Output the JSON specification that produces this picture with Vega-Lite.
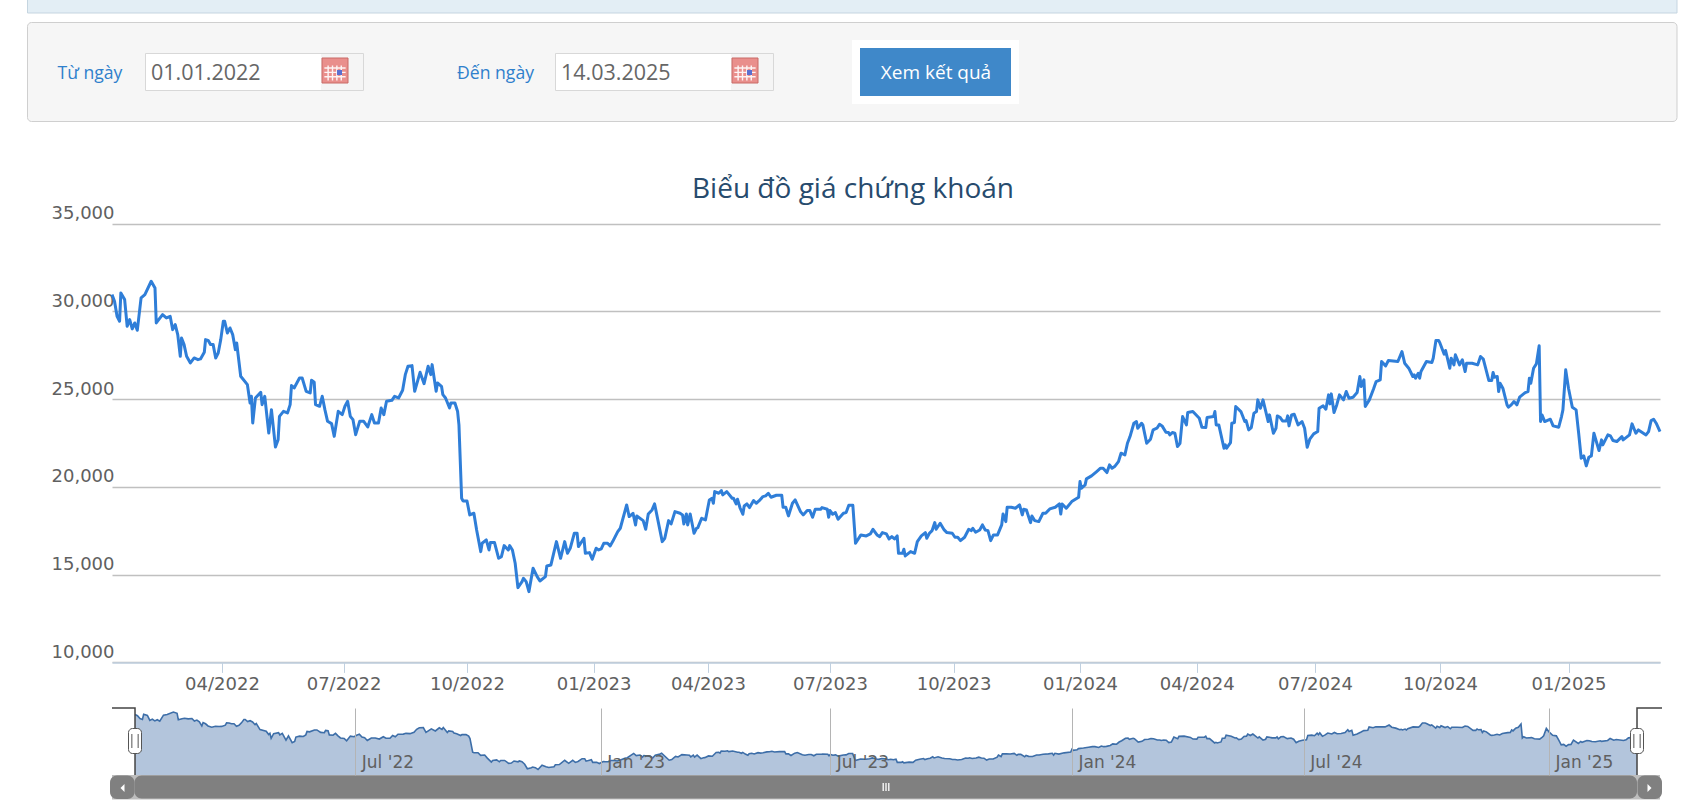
{"$schema":"https://vega.github.io/schema/vega-lite/v6.json","width":1694,"height":812,"padding":0,"autosize":{"type":"none"},"background":"#ffffff","title":{"text":"Biểu đồ giá chứng khoán","anchor":"middle","orient":"top","offset":-235,"dx":6,"baseline":"bottom","font":"Open Sans","fontSize":28,"fontWeight":"normal","color":"#274b6d"},"config":{"view":{"stroke":null},"text":{"font":"Open Sans"}},"datasets":{"price":[{"d":"2022-01-04","p":30955},{"d":"2022-01-06","p":30575},{"d":"2022-01-08","p":29720},{"d":"2022-01-10","p":29435},{"d":"2022-01-11","p":31050},{"d":"2022-01-14","p":30670},{"d":"2022-01-16","p":29150},{"d":"2022-01-18","p":29530},{"d":"2022-01-20","p":29000},{"d":"2022-01-22","p":29340},{"d":"2022-01-24","p":28920},{"d":"2022-01-27","p":30765},{"d":"2022-01-30","p":30955},{"d":"2022-02-04","p":31715},{"d":"2022-02-07","p":31335},{"d":"2022-02-08","p":29340},{"d":"2022-02-11","p":29625},{"d":"2022-02-13","p":29815},{"d":"2022-02-16","p":29625},{"d":"2022-02-19","p":29720},{"d":"2022-02-21","p":28960},{"d":"2022-02-23","p":29245},{"d":"2022-02-25","p":28675},{"d":"2022-02-27","p":27440},{"d":"2022-02-28","p":28485},{"d":"2022-03-02","p":28105},{"d":"2022-03-04","p":27440},{"d":"2022-03-07","p":27060},{"d":"2022-03-10","p":27345},{"d":"2022-03-13","p":27250},{"d":"2022-03-15","p":27290},{"d":"2022-03-18","p":27670},{"d":"2022-03-19","p":28390},{"d":"2022-03-21","p":28350},{"d":"2022-03-23","p":28105},{"d":"2022-03-25","p":28105},{"d":"2022-03-27","p":27345},{"d":"2022-03-29","p":27630},{"d":"2022-03-31","p":28390},{"d":"2022-04-02","p":29435},{"d":"2022-04-03","p":29435},{"d":"2022-04-05","p":28770},{"d":"2022-04-07","p":29055},{"d":"2022-04-09","p":28675},{"d":"2022-04-11","p":27820},{"d":"2022-04-12","p":28200},{"d":"2022-04-15","p":26300},{"d":"2022-04-20","p":25825},{"d":"2022-04-22","p":24780},{"d":"2022-04-23","p":25160},{"d":"2022-04-24","p":23640},{"d":"2022-04-26","p":25065},{"d":"2022-04-30","p":25390},{"d":"2022-05-01","p":24685},{"d":"2022-05-03","p":25160},{"d":"2022-05-06","p":23070},{"d":"2022-05-08","p":24400},{"d":"2022-05-11","p":22270},{"d":"2022-05-13","p":22690},{"d":"2022-05-14","p":24020},{"d":"2022-05-17","p":24305},{"d":"2022-05-20","p":24210},{"d":"2022-05-22","p":24685},{"d":"2022-05-23","p":25770},{"d":"2022-05-25","p":25635},{"d":"2022-05-29","p":26205},{"d":"2022-05-31","p":26205},{"d":"2022-06-03","p":25445},{"d":"2022-06-06","p":25350},{"d":"2022-06-07","p":26072},{"d":"2022-06-09","p":25958},{"d":"2022-06-10","p":24685},{"d":"2022-06-13","p":24590},{"d":"2022-06-15","p":25160},{"d":"2022-06-17","p":24400},{"d":"2022-06-19","p":23735},{"d":"2022-06-22","p":23602},{"d":"2022-06-24","p":22880},{"d":"2022-06-27","p":24305},{"d":"2022-06-30","p":24115},{"d":"2022-07-02","p":24590},{"d":"2022-07-04","p":24875},{"d":"2022-07-06","p":24020},{"d":"2022-07-08","p":23830},{"d":"2022-07-10","p":22975},{"d":"2022-07-13","p":23735},{"d":"2022-07-16","p":23735},{"d":"2022-07-19","p":23412},{"d":"2022-07-22","p":24115},{"d":"2022-07-24","p":23640},{"d":"2022-07-27","p":23640},{"d":"2022-07-29","p":24495},{"d":"2022-07-31","p":24115},{"d":"2022-08-02","p":24875},{"d":"2022-08-06","p":24932},{"d":"2022-08-08","p":25160},{"d":"2022-08-11","p":25065},{"d":"2022-08-14","p":25502},{"d":"2022-08-16","p":26395},{"d":"2022-08-18","p":26870},{"d":"2022-08-21","p":26908},{"d":"2022-08-23","p":25445},{"d":"2022-08-27","p":26528},{"d":"2022-08-30","p":25882},{"d":"2022-09-02","p":26870},{"d":"2022-09-04","p":26395},{"d":"2022-09-05","p":26965},{"d":"2022-09-08","p":25445},{"d":"2022-09-09","p":25920},{"d":"2022-09-12","p":25730},{"d":"2022-09-13","p":25255},{"d":"2022-09-15","p":25065},{"d":"2022-09-18","p":24495},{"d":"2022-09-19","p":24780},{"d":"2022-09-22","p":24780},{"d":"2022-09-24","p":24292},{"d":"2022-09-25","p":23532},{"d":"2022-09-27","p":19352},{"d":"2022-09-28","p":19200},{"d":"2022-10-01","p":19200},{"d":"2022-10-03","p":18402},{"d":"2022-10-06","p":18497},{"d":"2022-10-08","p":17547},{"d":"2022-10-11","p":16312},{"d":"2022-10-12","p":16787},{"d":"2022-10-15","p":16977},{"d":"2022-10-17","p":16407},{"d":"2022-10-18","p":16825},{"d":"2022-10-21","p":16825},{"d":"2022-10-24","p":15932},{"d":"2022-10-26","p":16027},{"d":"2022-10-28","p":16654},{"d":"2022-10-31","p":16407},{"d":"2022-11-01","p":16654},{"d":"2022-11-03","p":16407},{"d":"2022-11-05","p":15647},{"d":"2022-11-07","p":14260},{"d":"2022-11-10","p":14602},{"d":"2022-11-11","p":14792},{"d":"2022-11-13","p":14602},{"d":"2022-11-15","p":14032},{"d":"2022-11-18","p":15362},{"d":"2022-11-21","p":14887},{"d":"2022-11-23","p":14640},{"d":"2022-11-27","p":14887},{"d":"2022-11-28","p":15495},{"d":"2022-12-01","p":15552},{"d":"2022-12-05","p":16882},{"d":"2022-12-08","p":15932},{"d":"2022-12-11","p":16882},{"d":"2022-12-13","p":16217},{"d":"2022-12-15","p":16502},{"d":"2022-12-18","p":17357},{"d":"2022-12-20","p":17357},{"d":"2022-12-21","p":16597},{"d":"2022-12-25","p":17072},{"d":"2022-12-26","p":16217},{"d":"2022-12-29","p":16255},{"d":"2022-12-31","p":15875},{"d":"2023-01-03","p":16502},{"d":"2023-01-05","p":16407},{"d":"2023-01-07","p":16464},{"d":"2023-01-09","p":16787},{"d":"2023-01-12","p":16787},{"d":"2023-01-14","p":16635},{"d":"2023-01-16","p":16882},{"d":"2023-01-20","p":17452},{"d":"2023-01-22","p":17642},{"d":"2023-01-27","p":18972},{"d":"2023-01-29","p":18307},{"d":"2023-02-01","p":18497},{"d":"2023-02-03","p":17832},{"d":"2023-02-04","p":18345},{"d":"2023-02-09","p":18079},{"d":"2023-02-11","p":17585},{"d":"2023-02-13","p":18459},{"d":"2023-02-16","p":18687},{"d":"2023-02-18","p":19029},{"d":"2023-02-24","p":16882},{"d":"2023-02-26","p":17072},{"d":"2023-03-01","p":18079},{"d":"2023-03-03","p":17889},{"d":"2023-03-06","p":18592},{"d":"2023-03-10","p":18497},{"d":"2023-03-12","p":18402},{"d":"2023-03-13","p":17889},{"d":"2023-03-15","p":18459},{"d":"2023-03-16","p":17832},{"d":"2023-03-18","p":18459},{"d":"2023-03-21","p":17357},{"d":"2023-03-23","p":17642},{"d":"2023-03-24","p":17680},{"d":"2023-03-27","p":18212},{"d":"2023-03-30","p":18117},{"d":"2023-04-02","p":19257},{"d":"2023-04-04","p":19352},{"d":"2023-04-05","p":19067},{"d":"2023-04-06","p":19732},{"d":"2023-04-09","p":19637},{"d":"2023-04-11","p":19789},{"d":"2023-04-12","p":19542},{"d":"2023-04-15","p":19732},{"d":"2023-04-19","p":19352},{"d":"2023-04-20","p":19352},{"d":"2023-04-22","p":19029},{"d":"2023-04-23","p":19295},{"d":"2023-04-25","p":18782},{"d":"2023-04-27","p":18440},{"d":"2023-04-28","p":18915},{"d":"2023-04-30","p":19029},{"d":"2023-05-02","p":18820},{"d":"2023-05-05","p":19219},{"d":"2023-05-07","p":19067},{"d":"2023-05-09","p":19200},{"d":"2023-05-12","p":19447},{"d":"2023-05-14","p":19485},{"d":"2023-05-16","p":19637},{"d":"2023-05-18","p":19409},{"d":"2023-05-22","p":19523},{"d":"2023-05-26","p":19523},{"d":"2023-05-27","p":18839},{"d":"2023-05-29","p":18839},{"d":"2023-05-31","p":18345},{"d":"2023-06-03","p":19067},{"d":"2023-06-05","p":19257},{"d":"2023-06-09","p":18592},{"d":"2023-06-11","p":18402},{"d":"2023-06-14","p":18649},{"d":"2023-06-16","p":18649},{"d":"2023-06-18","p":18269},{"d":"2023-06-20","p":18725},{"d":"2023-06-24","p":18725},{"d":"2023-06-25","p":18820},{"d":"2023-06-29","p":18725},{"d":"2023-06-30","p":18269},{"d":"2023-07-01","p":18649},{"d":"2023-07-03","p":18440},{"d":"2023-07-05","p":18535},{"d":"2023-07-07","p":18155},{"d":"2023-07-11","p":18497},{"d":"2023-07-13","p":18535},{"d":"2023-07-15","p":18953},{"d":"2023-07-18","p":18953},{"d":"2023-07-20","p":16787},{"d":"2023-07-24","p":17262},{"d":"2023-07-28","p":17205},{"d":"2023-07-31","p":17319},{"d":"2023-08-02","p":17585},{"d":"2023-08-05","p":17262},{"d":"2023-08-07","p":17167},{"d":"2023-08-09","p":17395},{"d":"2023-08-12","p":17319},{"d":"2023-08-14","p":17034},{"d":"2023-08-16","p":17167},{"d":"2023-08-18","p":17034},{"d":"2023-08-20","p":17205},{"d":"2023-08-21","p":16217},{"d":"2023-08-24","p":16217},{"d":"2023-08-25","p":16445},{"d":"2023-08-26","p":16065},{"d":"2023-08-30","p":16312},{"d":"2023-09-02","p":16217},{"d":"2023-09-04","p":16882},{"d":"2023-09-07","p":17205},{"d":"2023-09-10","p":17395},{"d":"2023-09-11","p":17072},{"d":"2023-09-13","p":17357},{"d":"2023-09-15","p":17509},{"d":"2023-09-17","p":17965},{"d":"2023-09-18","p":17585},{"d":"2023-09-21","p":17927},{"d":"2023-09-24","p":17547},{"d":"2023-09-26","p":17395},{"d":"2023-09-30","p":17357},{"d":"2023-10-02","p":17129},{"d":"2023-10-04","p":17129},{"d":"2023-10-06","p":16939},{"d":"2023-10-09","p":17129},{"d":"2023-10-12","p":17585},{"d":"2023-10-14","p":17509},{"d":"2023-10-15","p":17642},{"d":"2023-10-17","p":17414},{"d":"2023-10-20","p":17547},{"d":"2023-10-22","p":17832},{"d":"2023-10-24","p":17547},{"d":"2023-10-26","p":17509},{"d":"2023-10-28","p":16939},{"d":"2023-10-30","p":17262},{"d":"2023-11-02","p":17262},{"d":"2023-11-05","p":17832},{"d":"2023-11-06","p":18459},{"d":"2023-11-08","p":18022},{"d":"2023-11-09","p":18839},{"d":"2023-11-12","p":18839},{"d":"2023-11-15","p":18782},{"d":"2023-11-18","p":18972},{"d":"2023-11-20","p":18402},{"d":"2023-11-21","p":18725},{"d":"2023-11-23","p":18687},{"d":"2023-11-26","p":17965},{"d":"2023-11-27","p":18345},{"d":"2023-11-29","p":18079},{"d":"2023-12-02","p":18022},{"d":"2023-12-05","p":18497},{"d":"2023-12-07","p":18497},{"d":"2023-12-10","p":18744},{"d":"2023-12-14","p":18839},{"d":"2023-12-17","p":19029},{"d":"2023-12-18","p":18459},{"d":"2023-12-19","p":19029},{"d":"2023-12-22","p":18782},{"d":"2023-12-26","p":19162},{"d":"2023-12-31","p":19409},{"d":"2024-01-01","p":20302},{"d":"2024-01-02","p":19922},{"d":"2024-01-05","p":20112},{"d":"2024-01-06","p":20454},{"d":"2024-01-10","p":20625},{"d":"2024-01-14","p":20872},{"d":"2024-01-17","p":21062},{"d":"2024-01-19","p":21062},{"d":"2024-01-22","p":20815},{"d":"2024-01-24","p":21252},{"d":"2024-01-26","p":21062},{"d":"2024-01-28","p":21157},{"d":"2024-01-31","p":21442},{"d":"2024-02-02","p":21917},{"d":"2024-02-05","p":21822},{"d":"2024-02-07","p":22487},{"d":"2024-02-09","p":22867},{"d":"2024-02-12","p":23627},{"d":"2024-02-14","p":23722},{"d":"2024-02-15","p":23342},{"d":"2024-02-18","p":23627},{"d":"2024-02-19","p":23532},{"d":"2024-02-22","p":22487},{"d":"2024-02-25","p":22715},{"d":"2024-02-27","p":23247},{"d":"2024-03-01","p":23342},{"d":"2024-03-03","p":23570},{"d":"2024-03-05","p":23475},{"d":"2024-03-08","p":23114},{"d":"2024-03-10","p":23095},{"d":"2024-03-11","p":22962},{"d":"2024-03-13","p":23095},{"d":"2024-03-15","p":23057},{"d":"2024-03-17","p":22297},{"d":"2024-03-19","p":22487},{"d":"2024-03-21","p":24007},{"d":"2024-03-24","p":23532},{"d":"2024-03-25","p":24235},{"d":"2024-03-29","p":24292},{"d":"2024-04-03","p":23912},{"d":"2024-04-05","p":23399},{"d":"2024-04-08","p":23380},{"d":"2024-04-09","p":23950},{"d":"2024-04-14","p":24007},{"d":"2024-04-15","p":24292},{"d":"2024-04-16","p":23532},{"d":"2024-04-18","p":23532},{"d":"2024-04-22","p":22202},{"d":"2024-04-23","p":22392},{"d":"2024-04-24","p":22202},{"d":"2024-04-27","p":22525},{"d":"2024-04-28","p":23627},{"d":"2024-04-30","p":23665},{"d":"2024-05-01","p":24577},{"d":"2024-05-05","p":24292},{"d":"2024-05-08","p":23722},{"d":"2024-05-09","p":23779},{"d":"2024-05-11","p":23247},{"d":"2024-05-13","p":23380},{"d":"2024-05-15","p":24197},{"d":"2024-05-17","p":24292},{"d":"2024-05-18","p":24957},{"d":"2024-05-20","p":24482},{"d":"2024-05-22","p":24957},{"d":"2024-05-26","p":23722},{"d":"2024-05-27","p":24102},{"d":"2024-05-30","p":23057},{"d":"2024-06-01","p":23342},{"d":"2024-06-02","p":24045},{"d":"2024-06-04","p":23969},{"d":"2024-06-06","p":23760},{"d":"2024-06-09","p":23760},{"d":"2024-06-10","p":24045},{"d":"2024-06-11","p":23475},{"d":"2024-06-13","p":24102},{"d":"2024-06-15","p":24140},{"d":"2024-06-18","p":23532},{"d":"2024-06-21","p":23722},{"d":"2024-06-23","p":23342},{"d":"2024-06-25","p":22259},{"d":"2024-06-27","p":22715},{"d":"2024-06-30","p":23019},{"d":"2024-07-03","p":23152},{"d":"2024-07-04","p":24482},{"d":"2024-07-07","p":24615},{"d":"2024-07-09","p":24425},{"d":"2024-07-11","p":25242},{"d":"2024-07-12","p":24729},{"d":"2024-07-13","p":25299},{"d":"2024-07-15","p":24235},{"d":"2024-07-17","p":24672},{"d":"2024-07-19","p":25242},{"d":"2024-07-22","p":24957},{"d":"2024-07-24","p":25432},{"d":"2024-07-26","p":25052},{"d":"2024-07-29","p":25109},{"d":"2024-08-01","p":25375},{"d":"2024-08-03","p":26287},{"d":"2024-08-04","p":25717},{"d":"2024-08-06","p":26097},{"d":"2024-08-07","p":24577},{"d":"2024-08-10","p":24957},{"d":"2024-08-13","p":25565},{"d":"2024-08-15","p":26002},{"d":"2024-08-18","p":26097},{"d":"2024-08-19","p":27142},{"d":"2024-08-22","p":26895},{"d":"2024-08-24","p":27199},{"d":"2024-08-31","p":27142},{"d":"2024-09-03","p":27712},{"d":"2024-09-05","p":27047},{"d":"2024-09-08","p":26762},{"d":"2024-09-11","p":26287},{"d":"2024-09-12","p":26382},{"d":"2024-09-13","p":26192},{"d":"2024-09-15","p":26477},{"d":"2024-09-16","p":26192},{"d":"2024-09-17","p":26572},{"d":"2024-09-21","p":27142},{"d":"2024-09-25","p":27085},{"d":"2024-09-26","p":27332},{"d":"2024-09-28","p":28339},{"d":"2024-09-30","p":28339},{"d":"2024-10-01","p":28187},{"d":"2024-10-04","p":27560},{"d":"2024-10-05","p":27769},{"d":"2024-10-08","p":26762},{"d":"2024-10-09","p":27332},{"d":"2024-10-11","p":26952},{"d":"2024-10-12","p":27522},{"d":"2024-10-15","p":26952},{"d":"2024-10-17","p":27237},{"d":"2024-10-19","p":26572},{"d":"2024-10-20","p":27047},{"d":"2024-10-24","p":27047},{"d":"2024-10-28","p":26952},{"d":"2024-10-30","p":27427},{"d":"2024-11-01","p":27275},{"d":"2024-11-05","p":26059},{"d":"2024-11-07","p":26059},{"d":"2024-11-08","p":26515},{"d":"2024-11-09","p":26249},{"d":"2024-11-11","p":26287},{"d":"2024-11-12","p":25432},{"d":"2024-11-13","p":25907},{"d":"2024-11-15","p":25622},{"d":"2024-11-18","p":24672},{"d":"2024-11-19","p":24539},{"d":"2024-11-21","p":24672},{"d":"2024-11-23","p":24862},{"d":"2024-11-25","p":24672},{"d":"2024-11-27","p":25109},{"d":"2024-12-01","p":25375},{"d":"2024-12-03","p":25432},{"d":"2024-12-04","p":26192},{"d":"2024-12-05","p":25907},{"d":"2024-12-07","p":26762},{"d":"2024-12-09","p":27009},{"d":"2024-12-11","p":28035},{"d":"2024-12-12","p":23722},{"d":"2024-12-13","p":24102},{"d":"2024-12-15","p":23722},{"d":"2024-12-19","p":23855},{"d":"2024-12-21","p":23475},{"d":"2024-12-25","p":23399},{"d":"2024-12-27","p":24007},{"d":"2024-12-28","p":24387},{"d":"2024-12-30","p":26667},{"d":"2025-01-01","p":25622},{"d":"2025-01-04","p":24539},{"d":"2025-01-07","p":24387},{"d":"2025-01-09","p":23057},{"d":"2025-01-11","p":21632},{"d":"2025-01-13","p":21765},{"d":"2025-01-15","p":21195},{"d":"2025-01-17","p":21689},{"d":"2025-01-19","p":21765},{"d":"2025-01-21","p":23057},{"d":"2025-01-25","p":22069},{"d":"2025-01-27","p":22677},{"d":"2025-01-28","p":22392},{"d":"2025-02-01","p":22962},{"d":"2025-02-03","p":22905},{"d":"2025-02-05","p":22639},{"d":"2025-02-08","p":22582},{"d":"2025-02-12","p":22867},{"d":"2025-02-13","p":22677},{"d":"2025-02-18","p":22962},{"d":"2025-02-20","p":23589},{"d":"2025-02-23","p":23057},{"d":"2025-02-25","p":23247},{"d":"2025-03-03","p":22962},{"d":"2025-03-05","p":23152},{"d":"2025-03-07","p":23779},{"d":"2025-03-09","p":23855},{"d":"2025-03-11","p":23627},{"d":"2025-03-14","p":23152}]},"resolve":{"scale":{"x":"independent","y":"independent"},"axis":{"x":"independent","y":"independent"}},"layer":[{"data":{"values":[{"section":"form"}]},"encoding":{"x":{"datum":0,"type":"quantitative","axis":null,"scale":{"domain":[0,1694],"range":[0,1694]}},"y":{"datum":0,"type":"quantitative","axis":null,"scale":{"domain":[0,812],"range":[0,812]}}},"layer":[{"mark":{"type":"rect","fill":"#e3eef5","stroke":"#c5d5e0"},"encoding":{"x":{"datum":27.5,"type":"quantitative","axis":null},"x2":{"datum":1677},"y":{"datum":-3,"type":"quantitative","axis":null},"y2":{"datum":13}}},{"mark":{"type":"rect","fill":"#f6f6f6","stroke":"#cfcfcf","cornerRadius":4},"encoding":{"x":{"datum":27.5,"type":"quantitative","axis":null},"x2":{"datum":1677},"y":{"datum":22.5,"type":"quantitative","axis":null},"y2":{"datum":121.5}}},{"mark":{"type":"rect","fill":"#ffffff","stroke":"#d8d8d8"},"encoding":{"x":{"datum":145.5,"type":"quantitative","axis":null},"x2":{"datum":363.5},"y":{"datum":53.5,"type":"quantitative","axis":null},"y2":{"datum":90.5}}},{"mark":{"type":"rect","fill":"#ffffff","stroke":"#d8d8d8"},"encoding":{"x":{"datum":555.5,"type":"quantitative","axis":null},"x2":{"datum":773.5},"y":{"datum":53.5,"type":"quantitative","axis":null},"y2":{"datum":90.5}}},{"mark":{"type":"rect","fill":"#f5f5f5"},"encoding":{"x":{"datum":321,"type":"quantitative","axis":null},"x2":{"datum":363},"y":{"datum":54,"type":"quantitative","axis":null},"y2":{"datum":90}}},{"mark":{"type":"rect","fill":"#f5f5f5"},"encoding":{"x":{"datum":731,"type":"quantitative","axis":null},"x2":{"datum":773},"y":{"datum":54,"type":"quantitative","axis":null},"y2":{"datum":90}}},{"mark":{"type":"rect","fill":"#e98f8c","stroke":"#c96a66","strokeWidth":1},"encoding":{"x":{"datum":322,"type":"quantitative","axis":null},"x2":{"datum":348},"y":{"datum":58,"type":"quantitative","axis":null},"y2":{"datum":83}}},{"mark":{"type":"rect","fill":"#e98f8c","stroke":"#c96a66","strokeWidth":1},"encoding":{"x":{"datum":732,"type":"quantitative","axis":null},"x2":{"datum":758},"y":{"datum":58,"type":"quantitative","axis":null},"y2":{"datum":83}}},{"mark":{"type":"point","shape":"M-0.85,-0.2H0.85M-0.85,0.15H0.85M-0.85,0.5H0.85M-0.55,-0.4V0.8M-0.2,-0.4V0.8M0.15,-0.4V0.8M0.5,-0.4V0.8","stroke":"#ffffff","strokeWidth":1.4,"size":625,"fill":null,"opacity":0.9},"encoding":{"x":{"datum":335,"type":"quantitative","axis":null},"y":{"datum":70.5,"type":"quantitative","axis":null}}},{"mark":{"type":"point","shape":"M-0.85,-0.2H0.85M-0.85,0.15H0.85M-0.85,0.5H0.85M-0.55,-0.4V0.8M-0.2,-0.4V0.8M0.15,-0.4V0.8M0.5,-0.4V0.8","stroke":"#ffffff","strokeWidth":1.4,"size":625,"fill":null,"opacity":0.9},"encoding":{"x":{"datum":745,"type":"quantitative","axis":null},"y":{"datum":70.5,"type":"quantitative","axis":null}}},{"mark":{"type":"rect","fill":"#5b6fd0"},"encoding":{"x":{"datum":337,"type":"quantitative","axis":null},"x2":{"datum":342},"y":{"datum":70,"type":"quantitative","axis":null},"y2":{"datum":75}}},{"mark":{"type":"rect","fill":"#5b6fd0"},"encoding":{"x":{"datum":747,"type":"quantitative","axis":null},"x2":{"datum":752},"y":{"datum":70,"type":"quantitative","axis":null},"y2":{"datum":75}}},{"mark":{"type":"rect","fill":"#ffffff"},"encoding":{"x":{"datum":852,"type":"quantitative","axis":null},"x2":{"datum":1019},"y":{"datum":40,"type":"quantitative","axis":null},"y2":{"datum":104}}},{"mark":{"type":"rect","fill":"#3f88c9"},"encoding":{"x":{"datum":860,"type":"quantitative","axis":null},"x2":{"datum":1011},"y":{"datum":48,"type":"quantitative","axis":null},"y2":{"datum":96}}},{"mark":{"type":"text","text":"Từ ngày","fontSize":17.6,"color":"#2f80cc","align":"center","baseline":"middle"},"encoding":{"x":{"datum":90,"type":"quantitative","axis":null},"y":{"datum":74,"type":"quantitative","axis":null}}},{"mark":{"type":"text","text":"Đến ngày","fontSize":17.6,"color":"#2f80cc","align":"center","baseline":"middle"},"encoding":{"x":{"datum":495.5,"type":"quantitative","axis":null},"y":{"datum":74,"type":"quantitative","axis":null}}},{"mark":{"type":"text","text":"01.01.2022","fontSize":21.5,"color":"#666666","align":"left","baseline":"middle"},"encoding":{"x":{"datum":151,"type":"quantitative","axis":null},"y":{"datum":74,"type":"quantitative","axis":null}}},{"mark":{"type":"text","text":"14.03.2025","fontSize":21.5,"color":"#666666","align":"left","baseline":"middle"},"encoding":{"x":{"datum":561,"type":"quantitative","axis":null},"y":{"datum":74,"type":"quantitative","axis":null}}},{"mark":{"type":"text","text":"Xem kết quả","fontSize":19,"color":"#ffffff","align":"center","baseline":"middle"},"encoding":{"x":{"datum":936,"type":"quantitative","axis":null},"y":{"datum":73,"type":"quantitative","axis":null}}},{"mark":{"type":"rect","fill":"#bdbdbd"},"encoding":{"x":{"datum":112,"type":"quantitative","axis":null},"x2":{"datum":1660},"y":{"datum":775,"type":"quantitative","axis":null},"y2":{"datum":799.5}}},{"mark":{"type":"rect","fill":"#808080","cornerRadius":7},"encoding":{"x":{"datum":110,"type":"quantitative","axis":null},"x2":{"datum":134.5},"y":{"datum":775.5,"type":"quantitative","axis":null},"y2":{"datum":799}}},{"mark":{"type":"rect","fill":"#808080","cornerRadius":7},"encoding":{"x":{"datum":1637.5,"type":"quantitative","axis":null},"x2":{"datum":1662},"y":{"datum":775.5,"type":"quantitative","axis":null},"y2":{"datum":799}}},{"mark":{"type":"rect","fill":"#808080","cornerRadius":7},"encoding":{"x":{"datum":134.5,"type":"quantitative","axis":null},"x2":{"datum":1637},"y":{"datum":775.5,"type":"quantitative","axis":null},"y2":{"datum":798.5}}},{"mark":{"type":"point","shape":"M0.5,-1L-0.5,0L0.5,1Z","fill":"#ffffff","stroke":null,"size":64,"opacity":1},"encoding":{"x":{"datum":122.5,"type":"quantitative","axis":null},"y":{"datum":788,"type":"quantitative","axis":null}}},{"mark":{"type":"point","shape":"M-0.5,-1L0.5,0L-0.5,1Z","fill":"#ffffff","stroke":null,"size":64,"opacity":1},"encoding":{"x":{"datum":1649.5,"type":"quantitative","axis":null},"y":{"datum":788,"type":"quantitative","axis":null}}},{"mark":{"type":"point","shape":"M-0.7,-1V1M0,-1V1M0.7,-1V1","stroke":"#ffffff","strokeWidth":1.3,"size":64,"fill":null,"opacity":1},"encoding":{"x":{"datum":886,"type":"quantitative","axis":null},"y":{"datum":787,"type":"quantitative","axis":null}}}]},{"data":{"name":"price","format":{"parse":{"d":"date"}}},"layer":[{"mark":{"type":"line","color":"#2f7ed8","strokeWidth":3,"strokeJoin":"round","clip":false},"encoding":{"x":{"field":"d","type":"quantitative","title":null,"scale":{"type":"linear","nice":false,"zero":false,"domain":[1641254400000,1648771200000,1656633600000,1664582400000,1672531200000,1680307200000,1688169600000,1696118400000,1704067200000,1711929600000,1719792000000,1727740800000,1735689600000,1741910400000],"range":[112,222,343.6,467,593.6,708,830,953.6,1080,1196.7,1315,1440,1568.5,1660]},"axis":{"orient":"bottom","offset":-149.6,"values":[1648771200000,1656633600000,1664582400000,1672531200000,1680307200000,1688169600000,1696118400000,1704067200000,1711929600000,1719792000000,1727740800000,1735689600000],"labelExpr":"utcFormat(datum.value,'%m/%Y')","grid":false,"domainColor":"#c0d0e0","domainWidth":1.5,"tickColor":"#c0d0e0","tickSize":10,"tickWidth":1,"labelColor":"#606060","labelFont":"DejaVu Sans","labelFontSize":18,"labelPadding":3,"labelOverlap":false,"labelFlush":false,"zindex":0}},"y":{"field":"p","type":"quantitative","title":null,"scale":{"nice":false,"zero":false,"domain":[10000,35000],"range":[662.4,223.6]},"axis":{"orient":"left","values":[10000,15000,20000,25000,30000,35000],"format":",.0f","grid":true,"gridColor":"#c0c0c0","gridWidth":1.4,"domain":false,"ticks":false,"tickSize":0,"labelAlign":"left","labelBaseline":"bottom","labelOffset":-1,"labelPadding":-51,"labelColor":"#606060","labelFont":"DejaVu Sans","labelFontSize":18,"labelOverlap":false,"labelFlush":false,"zindex":0}}}}]},{"data":{"name":"price","format":{"parse":{"d":"date"}}},"layer":[{"mark":{"type":"area","color":"#b3c5dc","opacity":1,"line":{"color":"#3d6ea8","strokeWidth":1.6}},"encoding":{"x":{"field":"d","type":"quantitative","title":null,"scale":{"type":"linear","nice":false,"zero":false,"domain":[1641254400000,1656633600000,1672531200000,1688169600000,1704067200000,1719792000000,1735689600000,1741910400000],"range":[135,355.3,600.7,830.3,1072,1303.8,1549,1637]},"axis":{"orient":"bottom","offset":-37,"values":[1656633600000,1672531200000,1688169600000,1704067200000,1719792000000,1735689600000],"labelExpr":"utcFormat(datum.value,\"%b '%y\")","grid":false,"domain":false,"ticks":true,"tickColor":"#b4b4b4","tickWidth":1,"tickSize":-67,"labelAlign":"left","labelBaseline":"middle","labelOffset":6,"labelPadding":54,"labelColor":"#606060","labelFont":"DejaVu Sans","labelFontSize":17,"labelOverlap":false,"labelFlush":false,"zindex":1}},"y":{"field":"p","type":"quantitative","title":null,"stack":null,"scale":{"nice":false,"zero":false,"domain":[12340,32960],"range":[775,708]},"axis":null},"y2":{"datum":12340}}}]},{"data":{"values":[{"section":"navigator handles"}]},"encoding":{"x":{"datum":0,"type":"quantitative","axis":null,"scale":{"domain":[0,1694],"range":[0,1694]}},"y":{"datum":0,"type":"quantitative","axis":null,"scale":{"domain":[0,812],"range":[0,812]}}},"layer":[{"mark":{"type":"point","shape":"M-1,-1H-0.313V1","stroke":"#444444","strokeWidth":1.5,"fill":null,"size":4489,"opacity":1},"encoding":{"x":{"datum":145.5,"type":"quantitative","axis":null},"y":{"datum":741.5,"type":"quantitative","axis":null}}},{"mark":{"type":"point","shape":"M1,-1H0.254V1","stroke":"#444444","strokeWidth":1.5,"fill":null,"size":4489,"opacity":1},"encoding":{"x":{"datum":1628.5,"type":"quantitative","axis":null},"y":{"datum":741.5,"type":"quantitative","axis":null}}},{"mark":{"type":"rect","fill":"#ffffff","stroke":"#555555","strokeWidth":1,"cornerRadius":4},"encoding":{"x":{"datum":128.5,"type":"quantitative","axis":null},"x2":{"datum":141.5},"y":{"datum":728.5,"type":"quantitative","axis":null},"y2":{"datum":753.5}}},{"mark":{"type":"rect","fill":"#ffffff","stroke":"#555555","strokeWidth":1,"cornerRadius":4},"encoding":{"x":{"datum":1630.5,"type":"quantitative","axis":null},"x2":{"datum":1643.5},"y":{"datum":728.5,"type":"quantitative","axis":null},"y2":{"datum":753.5}}},{"mark":{"type":"point","shape":"M-0.45,-1V1M0.45,-1V1","stroke":"#555555","strokeWidth":1,"size":196,"fill":null,"opacity":1},"encoding":{"x":{"datum":135,"type":"quantitative","axis":null},"y":{"datum":741,"type":"quantitative","axis":null}}},{"mark":{"type":"point","shape":"M-0.45,-1V1M0.45,-1V1","stroke":"#555555","strokeWidth":1,"size":196,"fill":null,"opacity":1},"encoding":{"x":{"datum":1637,"type":"quantitative","axis":null},"y":{"datum":741,"type":"quantitative","axis":null}}}]}]}
